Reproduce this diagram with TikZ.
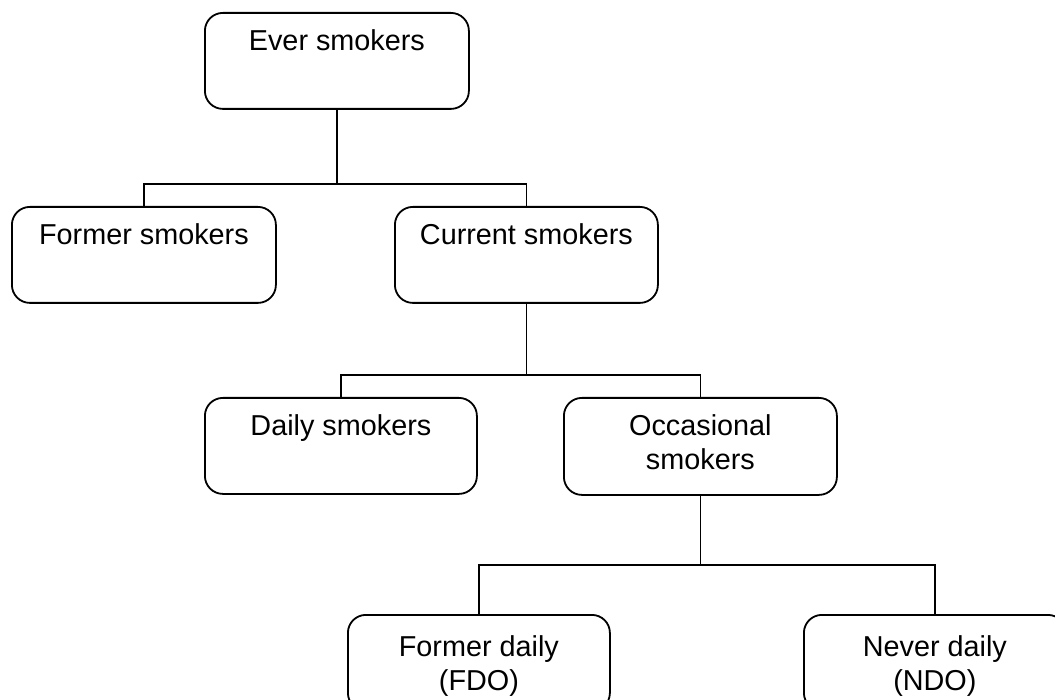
\documentclass[tikz,border=0pt]{standalone}
\usepackage{fontspec}
\setmainfont{Liberation Sans}
\newcommand{\boxtxt}[4]{\parbox[c][#2pt][t]{#1pt}{\centering\vspace*{#3pt}#4}}
\begin{document}
\begin{tikzpicture}[x=1pt,y=-1pt,
  box/.style={draw=black, line width=1.8pt, rounded corners=18pt, inner sep=0pt,
    anchor=north west, font=\fontsize{28.8}{34}\selectfont},
  conn/.style={draw=black, line width=1.8pt}]
\useasboundingbox (0,0) rectangle (1055,700);
\clip (0,0) rectangle (1055,700);
\node[box] (ever) at (204,12) {\boxtxt{264}{96}{17}{Ever smokers}};
\node[box] (former) at (11,206) {\boxtxt{264}{96}{17}{Former smokers}};
\node[box] (current) at (394,206) {\boxtxt{263}{96}{17}{Current smokers}};
\node[box] (daily) at (204,397) {\boxtxt{272}{96}{17}{Daily smokers}};
\node[box] (occ) at (563,397) {\boxtxt{273}{97}{17}{Occasional\\smokers}};
\node[box] (fdo) at (347,614) {\boxtxt{262}{96}{21}{Former daily\\(FDO)}};
\node[box] (ndo) at (803,614) {\boxtxt{262}{96}{21}{Never daily\\(NDO)}};
\path (ever.south) ++(0,74) coordinate (j1);
\path (current.south) ++(0,71) coordinate (j2);
\path (occ.south) ++(0,69) coordinate (j3);
\draw[conn] (ever.south) -- (j1);
\draw[conn] (former.north) |- (j1) -| (current.north);
\draw[conn] (current.south) -- (j2);
\draw[conn] (daily.north) |- (j2) -| (occ.north);
\draw[conn] (occ.south) -- (j3);
\draw[conn] (fdo.north) |- (j3) -| (ndo.north);
\end{tikzpicture}
\end{document}
